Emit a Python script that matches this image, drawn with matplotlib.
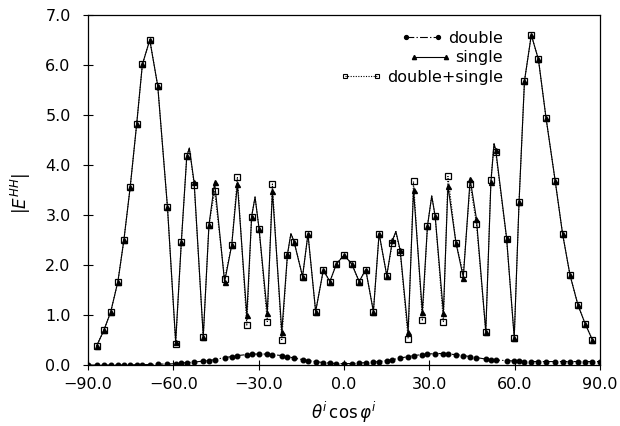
import numpy as np
import matplotlib.pyplot as plt
from matplotlib.lines import Line2D
from matplotlib.ticker import FuncFormatter, MultipleLocator

# sample angles
angle = [-87.0, -84.4, -82.0, -79.5, -77.4, -75.2, -72.9, -70.9, -68.3, -65.5,
         -62.1, -59.2, -57.2, -55.3, -52.7, -49.5, -47.5, -45.5, -42.0, -39.5,
         -37.5, -34.2, -32.5, -29.9, -27.0, -25.2, -21.9, -19.9, -17.6, -14.6,
         -12.7, -10.0, -7.3, -5.0, -2.7, 0.0,
         2.7, 5.3, 7.6, 10.3, 12.3, 15.0, 17.0, 19.7, 22.5, 24.4,
         27.5, 29.3, 32.0, 34.9, 36.5, 39.3, 41.9, 44.3, 46.5, 49.8,
         51.6, 53.3, 57.1, 59.8, 61.5, 63.4, 65.8, 68.3, 71.0, 74.2,
         76.8, 79.4, 82.2, 84.7, 87.3]

single = [0.38, 0.70, 1.07, 1.67, 2.50, 3.55, 4.82, 6.01, 6.50, 5.58,
          3.17, 0.47, 2.47, 4.17, 3.65, 0.57, 2.80, 3.65, 1.66, 2.40,
          3.62, 1.00, 2.97, 2.73, 1.04, 3.47, 0.67, 2.22, 2.47, 1.77,
          2.62, 1.07, 1.90, 1.67, 2.02, 2.20,
          2.02, 1.67, 1.91, 1.07, 2.63, 1.79, 2.50, 2.30, 0.67, 3.50,
          1.07, 2.78, 2.98, 1.05, 3.58, 2.45, 1.75, 3.72, 2.93, 0.67,
          3.65, 4.30, 2.55, 0.55, 3.27, 5.68, 6.60, 6.11, 4.93, 3.68,
          2.62, 1.80, 1.20, 0.83, 0.50]

double_single = [0.38, 0.70, 1.07, 1.67, 2.50, 3.55, 4.82, 6.01, 6.50, 5.58,
                 3.17, 0.42, 2.47, 4.17, 3.60, 0.57, 2.80, 3.48, 1.72, 2.40,
                 3.76, 0.80, 2.97, 2.73, 0.87, 3.62, 0.51, 2.20, 2.47, 1.77,
                 2.62, 1.07, 1.90, 1.67, 2.02, 2.20,
                 2.02, 1.67, 1.91, 1.07, 2.63, 1.79, 2.45, 2.27, 0.53, 3.67,
                 0.90, 2.78, 2.98, 0.87, 3.77, 2.45, 1.83, 3.62, 2.83, 0.67,
                 3.70, 4.25, 2.53, 0.55, 3.27, 5.68, 6.60, 6.11, 4.93, 3.68,
                 2.62, 1.80, 1.20, 0.83, 0.50]

# curve maxima between the samples
peak_angle = [-54.4, -31.3, -18.7, 18.2, 30.8, 52.7]
peak_value = [4.34, 3.36, 2.63, 2.67, 3.38, 4.43]

double_angle = [-90.0] + angle + [90.0]
double = [0.00, 0.00, 0.00, 0.00, 0.00, 0.00, 0.00, 0.01, 0.01, 0.01,
          0.02, 0.02, 0.03, 0.04, 0.05, 0.06, 0.08, 0.09, 0.11, 0.15,
          0.17, 0.19, 0.21, 0.22, 0.22, 0.22, 0.21, 0.19, 0.17, 0.14,
          0.11, 0.09, 0.07, 0.05, 0.04, 0.03, 0.03,
          0.03, 0.04, 0.05, 0.06, 0.07, 0.09, 0.11, 0.14, 0.17, 0.19,
          0.21, 0.22, 0.23, 0.23, 0.22, 0.21, 0.19, 0.17, 0.15, 0.12,
          0.11, 0.10, 0.09, 0.08, 0.08, 0.07, 0.07, 0.07, 0.07, 0.07,
          0.07, 0.07, 0.07, 0.07, 0.07, 0.07]


def with_peaks(x, y):
    xs = np.array(list(x) + peak_angle)
    ys = np.array(list(y) + peak_value)
    order = np.argsort(xs)
    return xs[order], ys[order]


dash_dot = (0, (7, 2, 1.2, 2))
dotted = (0, (1, 1.3))

fig = plt.figure(figsize=(6.2, 4.26), dpi=100)
ax = fig.add_axes([0.142, 0.143, 0.826, 0.822])

# double
ax.plot(double_angle, double, color='k', lw=0.8, ls=dash_dot,
        marker='o', ms=3.3, mfc='k', mec='k')

# double+single (dotted, open squares)
lx, ly = with_peaks(angle, double_single)
ax.plot(lx, ly, color='k', lw=0.8, ls=dotted)
ax.plot(angle, double_single, ls='none', marker='s', ms=4.2,
        mfc='none', mec='k', mew=0.9)

# single (solid, triangles)
lx, ly = with_peaks(angle, single)
ax.plot(lx, ly, color='k', lw=0.8, ls='-')
ax.plot(angle, single, ls='none', marker='^', ms=3.6, mfc='k', mec='k')

ax.set_xlim(-90, 90)
ax.set_ylim(0, 7)
ax.xaxis.set_major_locator(MultipleLocator(30))
ax.yaxis.set_major_locator(MultipleLocator(1))
fmt = FuncFormatter(lambda v, p: f'{v:.1f}'.replace('-', '\u2212'))
ax.xaxis.set_major_formatter(fmt)
ax.yaxis.set_major_formatter(fmt)
ax.tick_params(direction='inout', length=7, width=0.8, labelsize=11.5)
ax.tick_params(axis='y', pad=9)
ax.tick_params(axis='x', pad=5)
for s in ax.spines.values():
    s.set_linewidth(0.9)

ax.set_xlabel(r'$\theta^{i}\,\cos\varphi^{i}$', fontsize=12, labelpad=6)
ax.set_ylabel(r'$|E^{HH}|$', fontsize=12)
ax.yaxis.set_label_coords(-0.108, 0.49)

handles = [
    Line2D([], [], color='k', lw=0.8, ls=dash_dot, marker='o', ms=2.8),
    Line2D([], [], color='k', lw=0.8, ls='-', marker='^', ms=3),
    Line2D([], [], color='k', lw=0.8, ls=dotted, marker='s', ms=3.5,
           mfc='none', mew=0.8),
]
leg = ax.legend(handles, ['double', 'single', 'double+single'],
                loc='upper right', bbox_to_anchor=(0.81, 0.955),
                frameon=False, numpoints=2, handlelength=2.6,
                handletextpad=0.3, labelspacing=0.28, borderpad=0,
                borderaxespad=0, fontsize=11.5)
# right-justify the legend rows like the original
leg._legend_handle_box.get_children()[0].align = 'right'

fig.savefig('out.png', dpi=100)
